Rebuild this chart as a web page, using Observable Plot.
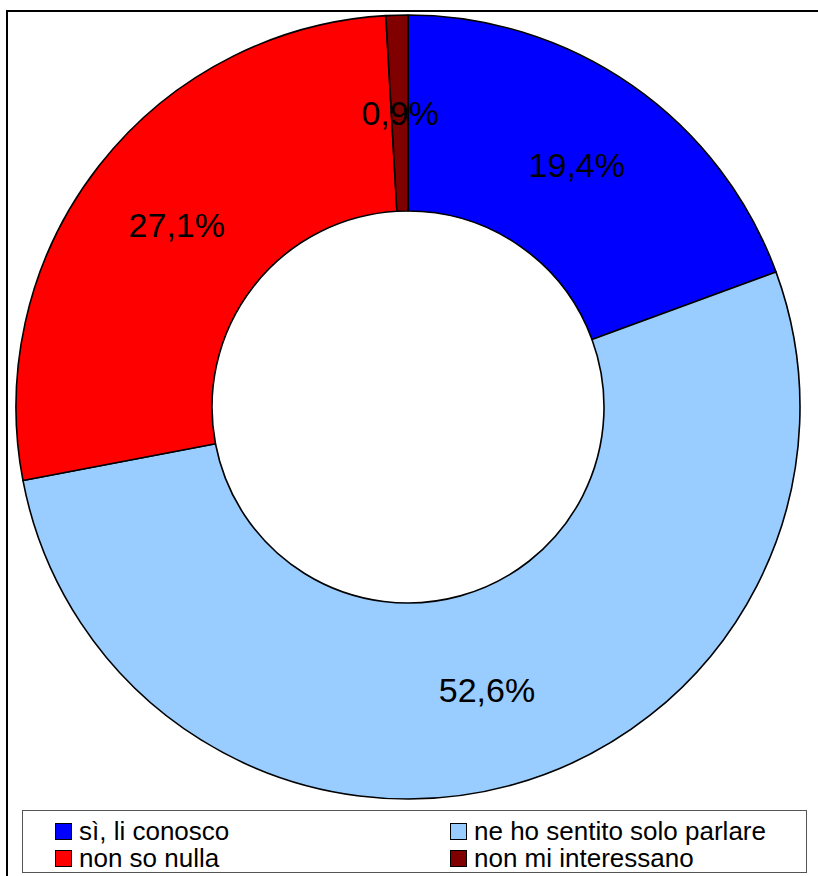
<!DOCTYPE html>
<html>
<head>
<meta charset="utf-8">
<script src="https://cdn.jsdelivr.net/npm/d3@7"></script>
<script src="https://cdn.jsdelivr.net/npm/@observablehq/plot@0.6"></script>
<style>
  html, body { margin: 0; padding: 0; background: #fff; }
  #wrap { position: relative; width: 818px; height: 876px; overflow: hidden; font-family: "Liberation Sans", Arial, sans-serif; }
  #frame { position: absolute; left: 6px; top: 10px; width: 900px; height: 900px; border: 2px solid #000; box-sizing: border-box; }
  #chart { position: absolute; left: 0; top: 0; }
  #legend { position: absolute; left: 22px; top: 810px; width: 785px; height: 63px; border: 1.5px solid #555; box-sizing: border-box; background: #fff; }
  .item { position: absolute; display: flex; align-items: center; font-size: 26px; line-height: 26px; color: #000; white-space: nowrap; }
  .sw { width: 15px; height: 15px; border: 1.2px solid #000; margin-right: 7px; box-sizing: content-box; }
</style>
</head>
<body>
<div id="wrap">
  <div id="frame"></div>
  <div id="chart"></div>
  <div id="legend"></div>
</div>
<script>
const categories = ["sì, li conosco", "ne ho sentito solo parlare", "non so nulla", "non mi interessano"];
const values = [19.4, 52.6, 27.1, 0.9];
const labels = ["19,4%", "52,6%", "27,1%", "0,9%"];
const colors = ["#0000ff", "#99ccff", "#ff0000", "#800000"];
const legendOrder = [0, 1, 2, 3];

const data = categories.map((c, i) => ({category: c, value: values[i], label: labels[i], color: colors[i]}));
const arcs = d3.pie().sort(null).value(d => d.value)(data);
const innerRatio = 0.5;
const labelR = (1 + innerRatio) / 2;
const labelData = arcs.map(a => {
  const m = (a.startAngle + a.endAngle) / 2;
  return {x: labelR * Math.sin(m), y: labelR * Math.cos(m), label: a.data.label};
});

const donut = (index, scales) => {
  const cx = scales.x(0), cy = scales.y(0), R = scales.x(1) - scales.x(0);
  const arc = d3.arc().innerRadius(R * innerRatio).outerRadius(R);
  const g = d3.create("svg:g").attr("transform", `translate(${cx},${cy})`);
  g.selectAll("path").data(arcs).join("path")
    .attr("d", arc)
    .attr("fill", d => d.data.color)
    .attr("stroke", "#000")
    .attr("stroke-width", 1.6)
    .attr("stroke-linejoin", "round");
  return g.node();
};

const chart = Plot.plot({
  width: 818,
  height: 876,
  marginLeft: 16,
  marginRight: 18,
  marginTop: 15,
  marginBottom: 77,
  x: {domain: [-1, 1], axis: null},
  y: {domain: [-1, 1], axis: null},
  style: {background: "transparent", overflow: "visible"},
  marks: [
    donut,
    Plot.text(labelData, {x: "x", y: "y", text: "label", fontSize: 34, fill: "#000", fontFamily: "Liberation Sans, Arial, sans-serif"})
  ]
});
document.getElementById("chart").appendChild(chart);

const legend = document.getElementById("legend");
const pos = [[32, 7], [427, 7], [32, 34], [427, 34]];
legendOrder.forEach((i, k) => {
  const el = document.createElement("div");
  el.className = "item";
  el.style.left = pos[k][0] + "px";
  el.style.top = pos[k][1] + "px";
  el.innerHTML = `<span class="sw" style="background:${colors[i]}"></span><span>${categories[i]}</span>`;
  legend.appendChild(el);
});
</script>
</body>
</html>
